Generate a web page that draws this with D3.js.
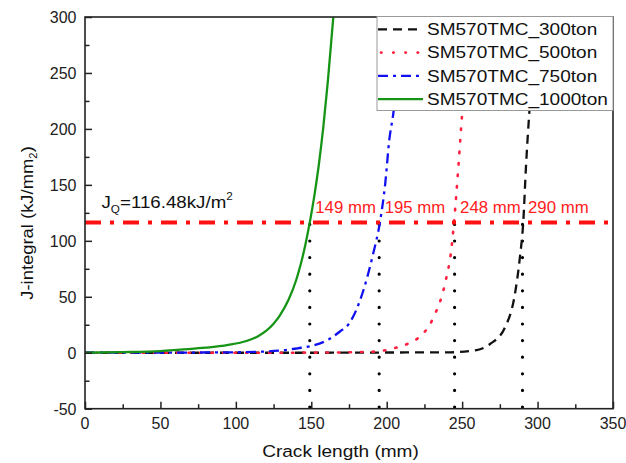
<!DOCTYPE html>
<html>
<head>
<meta charset="utf-8">
<script src="https://cdn.jsdelivr.net/npm/d3@7"></script>
<style>
  body { margin: 0; background: #fff; }
  svg { font-family: "Liberation Sans", Arial, sans-serif; }
</style>
</head>
<body>
<div id="chart"></div>
<script>
let width = 626;
let height = 463;
let margin = {top: 17, right: 13, bottom: 55, left: 85};

// curves: crack length (mm) and J-integral (kJ/mm2)
let len300 = [0, 150, 200, 242, 259.6, 268.5, 278.4, 285, 288.3, 290.5, 292.3, 294.5, 296.5];
let j300 = [0, 0, 0.2, 0.4, 2.4, 7.8, 22.7, 52.6, 85.4, 116.5, 166, 214, 250];

let len500 = [0, 100, 150, 189, 200, 206.6, 214, 220, 231, 238.6, 243, 244.6, 247.5, 249.7, 252];
let j500 = [0, 0, 0.1, 0.8, 2.5, 4.7, 8, 12.3, 31.6, 61.6, 94.4, 116.5, 166, 208, 245];

let len750 = [0, 50, 100, 130, 141, 150, 162, 169, 175, 184.5, 191, 195.5, 199, 201.7, 204.4, 207];
let j750 = [0, 0.1, 0.4, 2, 4, 6, 12.3, 19, 26, 55.6, 88.4, 116.5, 151, 190, 214, 245];

let len1000 = [0, 25, 50, 63, 80, 95, 107, 115, 120, 125, 129, 135, 140, 143, 146, 149, 152, 155, 158, 161, 164.6];
let j1000 = [0, 0.5, 1.5, 2.8, 4.5, 7, 10.5, 15, 19.5, 26, 33, 47.5, 65, 79, 96, 116.5, 140, 168, 202, 243, 300];

let seriesNames = ["SM570TMC_300ton", "SM570TMC_500ton", "SM570TMC_750ton", "SM570TMC_1000ton"];
let seriesColors = ["#111111", "#ff2040", "#1010f0", "#169416"];
let seriesDash = ["9,6", "1.5,10", "10,5,3,5", null];
let seriesCaps = ["butt", "round", "butt", "butt"];

let jq = 116.48;
let critLen = [149, 195, 245, 290];
let critLabels = ["149 mm", "195 mm", "248 mm", "290 mm"];

let xTicks = [0, 50, 100, 150, 200, 250, 300, 350];
let yTicks = [-50, 0, 50, 100, 150, 200, 250, 300];

let series = [
  {x: len300, y: j300},
  {x: len500, y: j500},
  {x: len750, y: j750},
  {x: len1000, y: j1000}
].map((s, i) => ({
  name: seriesNames[i],
  color: seriesColors[i],
  dash: seriesDash[i],
  cap: seriesCaps[i],
  points: s.x.map((v, k) => [v, s.y[k]])
}));

let x = d3.scaleLinear().domain([0, 350]).range([margin.left, width - margin.right]);
let y = d3.scaleLinear().domain([-50, 300]).range([height - margin.bottom + 0.7, margin.top]);

let svg = d3.select("#chart").append("svg")
  .attr("width", width)
  .attr("height", height);

svg.append("clipPath").attr("id", "plot")
  .append("rect")
  .attr("x", x(0)).attr("y", y(300))
  .attr("width", x(350) - x(0)).attr("height", y(-50) - y(300));

let plot = svg.append("g").attr("clip-path", "url(#plot)");

// critical crack length verticals
plot.selectAll("line.crit")
  .data(critLen)
  .enter()
  .append("line")
  .attr("class", "crit")
  .attr("x1", d => x(d)).attr("x2", d => x(d))
  .attr("y1", y(jq) + 2).attr("y2", y(-50) + 2)
  .attr("stroke", "#000")
  .attr("stroke-width", 3.2)
  .attr("stroke-linecap", "round")
  .attr("stroke-dasharray", "0,16.6");

let line = d3.line()
  .x(d => x(d[0]))
  .y(d => y(d[1]))
  .curve(d3.curveMonotoneX);

plot.selectAll("path.curve")
  .data(series)
  .enter()
  .append("path")
  .attr("class", "curve")
  .attr("d", d => line(d.points))
  .attr("fill", "none")
  .attr("stroke", d => d.color)
  .attr("stroke-width", d => d.cap == "round" ? 2.6 : 2.3)
  .attr("stroke-linecap", d => d.cap)
  .attr("stroke-dasharray", d => d.dash);

// J_Q level
plot.append("line")
  .attr("x1", x(0)).attr("x2", x(350))
  .attr("y1", y(jq)).attr("y2", y(jq))
  .attr("stroke", "#ff1010")
  .attr("stroke-width", 4)
  .attr("stroke-dasharray", "16,9,4,9");

// axes: ticks inside, major + minor
function minor(vals) {
  return d3.range(vals[0], vals[vals.length - 1], 25).filter(v => v % 50 != 0);
}

svg.append("g")
  .attr("transform", "translate(0," + y(-50) + ")")
  .call(d3.axisTop(x).tickValues(xTicks).tickSize(7).tickFormat(""));
svg.append("g")
  .attr("transform", "translate(0," + y(-50) + ")")
  .call(d3.axisTop(x).tickValues(minor(xTicks)).tickSize(4.5).tickFormat(""));
svg.append("g")
  .attr("transform", "translate(" + x(0) + ",0)")
  .call(d3.axisRight(y).tickValues(yTicks).tickSize(7).tickFormat(""));
svg.append("g")
  .attr("transform", "translate(" + x(0) + ",0)")
  .call(d3.axisRight(y).tickValues(minor(yTicks)).tickSize(4.5).tickFormat(""));

svg.selectAll(".domain").remove();
svg.selectAll(".tick line").attr("stroke", "#222").attr("stroke-width", 1.5);

svg.append("rect")
  .attr("x", x(0)).attr("y", y(300))
  .attr("width", x(350) - x(0)).attr("height", y(-50) - y(300))
  .attr("fill", "none")
  .attr("stroke", "#222")
  .attr("stroke-width", 1.6);

// tick labels
svg.selectAll("text.xt")
  .data(xTicks)
  .enter()
  .append("text")
  .attr("class", "xt")
  .attr("x", d => x(d))
  .attr("y", 428.5)
  .attr("text-anchor", "middle")
  .attr("font-size", 16)
  .attr("fill", "#222")
  .text(d => d);

svg.selectAll("text.yt")
  .data(yTicks)
  .enter()
  .append("text")
  .attr("class", "yt")
  .attr("x", 76.5)
  .attr("y", d => y(d) + 5.8)
  .attr("text-anchor", "end")
  .attr("font-size", 16)
  .attr("fill", "#222")
  .text(d => d);

// axis titles (the original is a bit stretched sideways)
svg.append("text")
  .attr("transform", "translate(340.5,456.5) scale(1.17,1)")
  .attr("text-anchor", "middle")
  .attr("font-size", 16.3)
  .attr("fill", "#111")
  .text("Crack length (mm)");

let yl = svg.append("text")
  .attr("transform", "translate(33,223) rotate(-90) scale(1.13,1)")
  .attr("text-anchor", "middle")
  .attr("font-size", 16.3)
  .attr("fill", "#111");
yl.append("tspan").text("J-integral (kJ/mm");
yl.append("tspan").attr("font-size", 10).attr("dy", 4).text("2");
yl.append("tspan").attr("dy", -4).text(")");

// J_Q label
let jl = svg.append("text")
  .attr("transform", "translate(101.5,208) scale(1.17,1)")
  .attr("font-size", 16)
  .attr("fill", "#111");
jl.append("tspan").text("J");
jl.append("tspan").attr("font-size", 10).attr("dy", 5).text("Q");
jl.append("tspan").attr("dy", -5).text("=" + jq + "kJ/m");
jl.append("tspan").attr("font-size", 10).attr("dy", -8).text("2");

// red crack length labels
svg.selectAll("text.crit")
  .data(critLen)
  .enter()
  .append("text")
  .attr("class", "crit")
  .attr("transform", (d, i) => "translate(" + (x(d) + 5.5) + ",213) scale(1.05,1)")
  .attr("font-size", 16)
  .attr("fill", "#ff2020")
  .text((d, i) => critLabels[i]);

// legend
let legend = svg.append("g").attr("transform", "translate(377,16.5)");
legend.append("rect")
  .attr("width", 236)
  .attr("height", 94)
  .attr("fill", "#fff")
  .attr("stroke", "#999")
  .attr("stroke-width", 1);

let rows = legend.selectAll("g.row")
  .data(series)
  .enter()
  .append("g")
  .attr("class", "row")
  .attr("transform", (d, i) => "translate(0," + (12.8 + i * 23.3) + ")");

rows.append("line")
  .attr("x1", 1).attr("x2", 46)
  .attr("stroke", d => d.color)
  .attr("stroke-width", d => d.cap == "round" ? 2.6 : 2.3)
  .attr("stroke-linecap", d => d.cap)
  .attr("stroke-dasharray", d => d.cap == "round" ? "0.5,11.7" : d.dash)
  .attr("stroke-dashoffset", d => d.cap == "round" ? -3 : 0);

rows.append("text")
  .attr("transform", "translate(50,5.8) scale(1.22,1)")
  .attr("font-size", 15.6)
  .attr("fill", "#111")
  .text(d => d.name);
</script>
</body>
</html>
